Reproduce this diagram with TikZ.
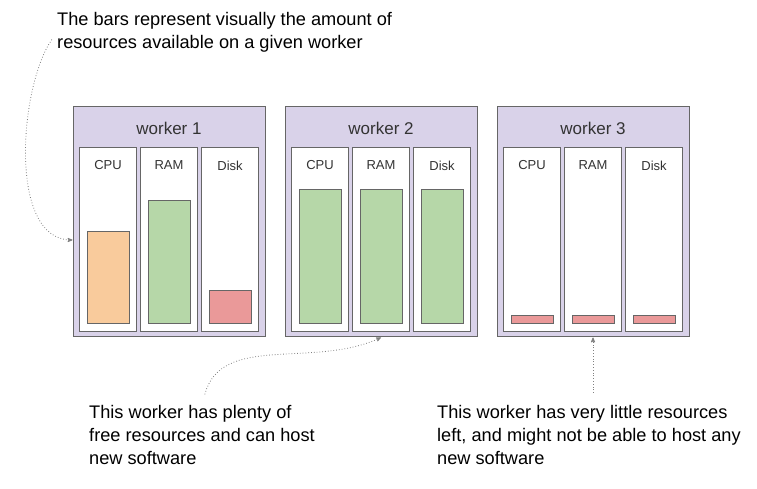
\documentclass[tikz,border=0pt]{standalone}
\usepackage{fontspec}
\setmainfont{Liberation Sans}
\usetikzlibrary{arrows,positioning}
\definecolor{workerfill}{HTML}{D9D2E9}
\definecolor{edgegray}{HTML}{666666}
\definecolor{labelgray}{HTML}{333333}
\definecolor{cpuorange}{HTML}{F9CB9C}
\definecolor{ramgreen}{HTML}{B6D7A8}
\definecolor{diskred}{HTML}{EA9999}
\tikzstyle{worker} = [rectangle, draw=edgegray, fill=workerfill, line width=1pt,
    minimum width=192pt, minimum height=230pt]
\tikzstyle{column} = [rectangle, draw=edgegray, fill=white, line width=1pt,
    minimum width=57pt, minimum height=184pt]
\tikzstyle{bar} = [rectangle, draw=edgegray, line width=1pt, minimum width=42pt, inner sep=0pt]
\tikzstyle{title} = [font=\fontsize{17}{20}\selectfont, text=labelgray, inner sep=0pt]
\tikzstyle{colname} = [font=\fontsize{13}{15}\selectfont, text=labelgray, inner sep=0pt]
\tikzstyle{note} = [font=\fontsize{18.2}{23}\selectfont, align=left, inner sep=0pt, anchor=north west]
\tikzstyle{pointer} = [->, dotted, line width=0.8pt, draw=black!50]

\begin{document}
\begin{tikzpicture}[x=1pt,y=1pt,>=stealth',node distance=19pt]
  \useasboundingbox (0,0) rectangle (757,489);
  % workers
  \node[worker] (w1) at (169,267) {};
  \node[worker,right=of w1] (w2) {};
  \node[worker,right=of w2] (w3) {};
  \node[title,below=15pt of w1.north] (t1) {worker 1};
  \node[title,below=15pt of w2.north] (t2) {worker 2};
  \node[title,below=15pt of w3.north] (t3) {worker 3};

  % columns
  \node[column] (ram1) at ([yshift=-18pt]w1.center) {};
  \node[column,left=3pt of ram1] (cpu1) {};
  \node[column,right=3pt of ram1] (disk1) {};
  \node[column] (ram2) at ([yshift=-18pt]w2.center) {};
  \node[column,left=3pt of ram2] (cpu2) {};
  \node[column,right=3pt of ram2] (disk2) {};
  \node[column] (ram3) at ([yshift=-18pt]w3.center) {};
  \node[column,left=3pt of ram3] (cpu3) {};
  \node[column,right=3pt of ram3] (disk3) {};

  \node[colname,below=13pt of cpu1.north] (cpu1l) {CPU};
  \node[colname,below=13pt of ram1.north] (ram1l) {RAM};
  \node[colname,below=13pt of disk1.north] (disk1l) {Disk};
  \node[colname,below=13pt of cpu2.north] (cpu2l) {CPU};
  \node[colname,below=13pt of ram2.north] (ram2l) {RAM};
  \node[colname,below=13pt of disk2.north] (disk2l) {Disk};
  \node[colname,below=13pt of cpu3.north] (cpu3l) {CPU};
  \node[colname,below=13pt of ram3.north] (ram3l) {RAM};
  \node[colname,below=13pt of disk3.north] (disk3l) {Disk};

  % bars
  \node[bar,fill=cpuorange,minimum height=92pt,above=8pt of cpu1.south] (cpu1b) {};
  \node[bar,fill=ramgreen,minimum height=123pt,above=8pt of ram1.south] (ram1b) {};
  \node[bar,fill=diskred,minimum height=33pt,above=8pt of disk1.south] (disk1b) {};
  \node[bar,fill=ramgreen,minimum height=134pt,above=8pt of cpu2.south] (cpu2b) {};
  \node[bar,fill=ramgreen,minimum height=134pt,above=8pt of ram2.south] (ram2b) {};
  \node[bar,fill=ramgreen,minimum height=134pt,above=8pt of disk2.south] (disk2b) {};
  \node[bar,fill=diskred,minimum height=8pt,above=8pt of cpu3.south] (cpu3b) {};
  \node[bar,fill=diskred,minimum height=8pt,above=8pt of ram3.south] (ram3b) {};
  \node[bar,fill=diskred,minimum height=8pt,above=8pt of disk3.south] (disk3b) {};

  % notes
  \node[note] (top) at (57,477) {The bars represent visually the amount of\\resources available on a given worker};
  \node[note] (plenty) at (89,84) {This worker has plenty of\\free resources and can host\\new software};
  \node[note] (little) at (437,84) {This worker has very little resources\\left, and might not be able to host any\\new software};

  \draw[pointer,shorten <=9pt] (top.west) to[out=235,in=180,looseness=0.8] (w1.west |- cpu1);
  \draw[pointer,shorten <=11pt] (plenty.north) to[out=75,in=205] (w2.south);
  \draw[pointer,shorten <=12pt] (little.north -| w3.south) -- (w3.south);
\end{tikzpicture}
\end{document}
